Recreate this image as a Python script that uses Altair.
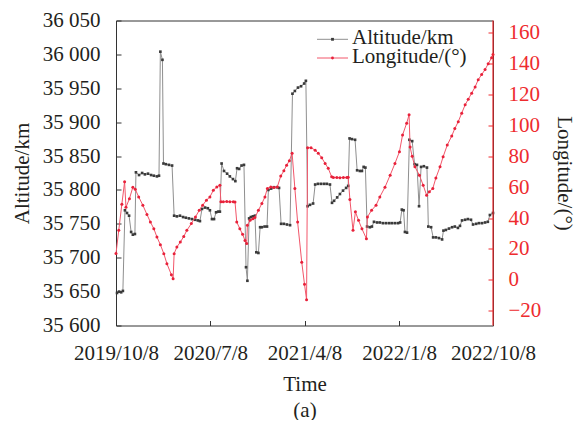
import altair as alt
import pandas as pd

# ---------------- data ----------------
START = "2019-10-08"

alt_days = [3, 9, 15, 20, 26, 32, 38, 44, 49, 55,
            58, 67, 76, 84, 93, 102, 110, 119, 125, 129,
            135, 138, 145, 154, 163, 169, 177, 186, 195, 203,
            212, 221, 230, 238, 244, 250, 259, 267, 273, 279,
            285, 291, 297, 302, 307, 314, 323, 331, 340, 347,
            352, 358, 365, 372, 378, 382, 387, 392, 398, 404,
            408, 414, 419, 424, 432, 439, 443, 451, 459, 468,
            474, 480, 488, 497, 506, 513, 520, 529, 538, 547,
            552, 557, 564, 573, 579, 587, 596, 605, 613, 622,
            628, 634, 643, 651, 660, 669, 675, 679, 686, 695,
            701, 709, 715, 720, 725, 730, 738, 744, 750, 759,
            767, 776, 785, 794, 802, 811, 820, 826, 831, 836,
            840, 846, 853, 861, 868, 875, 881, 887, 895, 904,
            908, 916, 922, 930, 939, 948, 952, 959, 968, 977,
            985, 994, 1000, 1006, 1015, 1023, 1032, 1038, 1047, 1055,
            1064, 1073, 1081, 1087, 1096]

alt_km = [35648, 35650, 35649, 35651, 35770, 35766, 35762, 35738, 35734, 35735,
          35826, 35822, 35825, 35823, 35824, 35822, 35821, 35820, 35821, 36004,
          35992, 35839, 35838, 35837, 35836, 35762, 35761, 35762, 35760, 35759,
          35758, 35757, 35756, 35755, 35754, 35772, 35774, 35773, 35770, 35757,
          35757, 35767, 35768, 35768, 35839, 35828, 35824, 35820, 35816, 35813,
          35832, 35831, 35836, 35837, 35686, 35666, 35758, 35760, 35761, 35762,
          35708, 35707, 35745, 35745, 35746, 35746, 35800, 35802, 35804, 35804,
          35803, 35750, 35750, 35749, 35748, 35942, 35946, 35951, 35953, 35957,
          35961, 35776, 35778, 35780, 35808, 35809, 35809, 35809, 35809, 35808,
          35781, 35784, 35789, 35794, 35799, 35803, 35806, 35876, 35875, 35874,
          35829, 35828, 35828, 35834, 35833, 35746, 35745, 35746, 35753, 35752,
          35752, 35751, 35751, 35751, 35751, 35751, 35751, 35752, 35771, 35770,
          35738, 35737, 35874, 35872, 35838, 35837, 35776, 35834, 35835, 35833,
          35746, 35745, 35730, 35730, 35729, 35727, 35740, 35741, 35743, 35745,
          35746, 35744, 35747, 35755, 35756, 35757, 35756, 35749, 35750, 35751,
          35751, 35752, 35753, 35763, 35766]

lon_days = [0, 8, 17, 25, 29, 39, 49, 56, 66, 78,
            90, 100, 110, 119, 129, 139, 148, 161, 166, 169,
            177, 187, 197, 206, 219, 231, 242, 252, 263, 273,
            283, 293, 302, 305, 312, 322, 331, 341, 346, 351,
            360, 368, 375, 380, 382, 390, 398, 404, 414, 424,
            433, 440, 450, 459, 469, 479, 488, 496, 504, 512,
            520, 528, 540, 548, 554, 557, 567, 579, 588, 598,
            608, 617, 627, 632, 642, 651, 661, 671, 675, 680,
            689, 696, 705, 715, 728, 731, 743, 756, 767, 782,
            797, 811, 824, 833, 845, 852, 855, 861, 869, 882,
            893, 903, 911, 921, 930, 942, 951, 963, 976, 985,
            995, 1005, 1015, 1024, 1034, 1044, 1053, 1063, 1073, 1082,
            1092, 1096]

lon_deg = [17, 32, 49, 63.5, 47, 52.5, 60, 58.7, 53.7, 48.3,
           42.3, 37.4, 33.1, 27.7, 22.7, 16.9, 10.4, 3.2, 0.6, 16.9,
           21.2, 24.4, 28, 32, 36.4, 40.7, 45, 48.3, 51.6, 53.7,
           58, 60.2, 61.3, 50.5, 50.5, 50.7, 50.5, 50.6, 50.4, 37.4,
           33.1, 29.4, 25.5, 23.4, 35.3, 38.6, 39.5, 40.3, 45, 49.4,
           53.7, 59.2, 60.2, 59.8, 60.2, 67.2, 70.6, 74.3, 77.1, 82,
           59.2, 37.4, 11.4, -3, -13, 85.6, 85.6, 84, 82, 79.1,
           75.4, 72.2, 66.7, 66.3, 66.3, 66.2, 66.3, 66.3, 66.4, 52,
           32, 44, 38.5, 33, 26.6, 40.7, 45, 48.3, 53.7, 60,
           67.8, 75.4, 83, 93.8, 101.5, 106.9, 86, 80, 73.2, 67.8,
           61.3, 54.8, 57, 59.2, 66, 73.2, 79.7, 87.3, 93.2, 98,
           102.5, 108, 113.4, 117, 121, 125, 129.7, 133, 136.3, 140,
           144, 146]

x_ticks = [(2019, 10, 8), (2020, 7, 8), (2021, 4, 8), (2022, 1, 8), (2022, 10, 8)]
alt_ticks = list(range(35600, 36051, 50))
lon_ticks = list(range(-20, 161, 20))


def to_ms(days):
    t = pd.Timestamp(START) + pd.to_timedelta(pd.Series(days, dtype=float), unit="D")
    return (t.astype("int64") // 10**6).tolist()


df_alt = pd.DataFrame({"t": to_ms(alt_days), "alt": alt_km})
df_lon = pd.DataFrame({"t": to_ms(lon_days), "lon": lon_deg})

# ---------------- style ----------------
FONT = "Liberation Serif"
FS = 21
W, H = 377, 305
RED = "#ee2b2e"
GRAY_LINE = "#8f8f8f"
DARK = "#231f20"

dt = lambda y, m, d: alt.DateTime(year=y, month=m, date=d, utc=True)

x_enc = alt.X(
    "t:T",
    scale=alt.Scale(type="utc", domain=[dt(2019, 10, 8), dt(2022, 10, 8)]),
    axis=alt.Axis(
        values=[dt(*v) for v in x_ticks],
        labelExpr="utcFormat(datum.value, '%Y/%-m/%-d')",
        labelFlush=False, labelOverlap=False,
        domain=False, offset=-5, tickSize=5, tickColor="#333333",
        labelPadding=17, labelFont=FONT, labelFontSize=FS, labelColor=DARK,
        title=["Time", "(a)"], titleFont=FONT, titleFontSize=FS,
        titleFontWeight="normal", titleColor=DARK, titlePadding=10,
        titleLineHeight=26,
    ),
)

alt_layer = alt.Chart(df_alt).mark_line(
    color=GRAY_LINE, strokeWidth=1,
    point=alt.OverlayMarkDef(filled=True, size=7, color="#3a3a3a", shape="square"),
).encode(
    x=x_enc,
    y=alt.Y(
        "alt:Q",
        scale=alt.Scale(domain=[35600, 36050], nice=False, zero=False),
        axis=alt.Axis(
            values=alt_ticks, orient="left",
            labelExpr="replace(format(datum.value, ','), ',', ' ')",
            domain=False, offset=-5, tickSize=5, tickColor="#333333",
            labelPadding=16, labelFont=FONT, labelFontSize=FS, labelColor=DARK,
            title="Altitude/km", titleFont=FONT, titleFontSize=FS,
            titleFontWeight="normal", titleColor=DARK, titlePadding=10,
        ),
    ),
)

lon_layer = alt.Chart(df_lon).mark_line(
    color="#f2566a", strokeWidth=1,
    point=alt.OverlayMarkDef(filled=True, size=9, color="#e8213a"),
).encode(
    x=x_enc,
    y=alt.Y(
        "lon:Q",
        scale=alt.Scale(domain=[-29.7, 168.1], nice=False, zero=False),
        axis=alt.Axis(
            values=lon_ticks, orient="right",
            domain=False, offset=-5, tickSize=5, tickColor=RED,
            labelPadding=15, labelFont=FONT, labelFontSize=FS, labelColor=RED,
            title="Longitude/(°)", titleFont=FONT, titleFontSize=FS,
            titleFontWeight="normal", titleColor=DARK, titlePadding=13,
        ),
    ),
)

# right-hand red frame edge
right_edge = alt.Chart().mark_rule(color=RED, strokeWidth=1.2).encode(
    x=alt.value(W), y=alt.value(0), y2=alt.value(H)
)

# legend
leg_items = [("Altitude/km", GRAY_LINE, "#3a3a3a", 18.8, 23.8, "square"),
             ("Longitude/(°)", "#f2566a", "#e8213a", 37.5, 42.5, "circle")]
legend_layers = []
for label, lc, pc, ly, ty, shp in leg_items:
    legend_layers.append(
        alt.Chart().mark_rule(color=lc, strokeWidth=1).encode(
            x=alt.value(201), x2=alt.value(232), y=alt.value(ly))
    )
    legend_layers.append(
        alt.Chart().mark_point(filled=True, size=8, color=pc, shape=shp, opacity=1).encode(
            x=alt.value(216.5), y=alt.value(ly))
    )
    legend_layers.append(
        alt.Chart().mark_text(text=label, font=FONT, fontSize=FS, color=DARK,
                              align="left", baseline="alphabetic").encode(
            x=alt.value(236), y=alt.value(ty))
    )

chart = alt.layer(alt_layer, lon_layer, right_edge, *legend_layers).resolve_scale(
    y="independent"
).properties(
    width=W, height=H,
    autosize=alt.AutoSizeParams(type="none"),
    padding={"left": 108, "top": 12.5, "right": 83, "bottom": 94.5},
).configure_view(
    stroke="#333333", strokeWidth=1
).configure_axis(
    grid=False, labelFont=FONT, titleFont=FONT, labelFontSize=FS, titleFontSize=FS
).configure_text(
    font=FONT
)

chart.save("out.html", embed_options={"renderer": "svg", "actions": False})
